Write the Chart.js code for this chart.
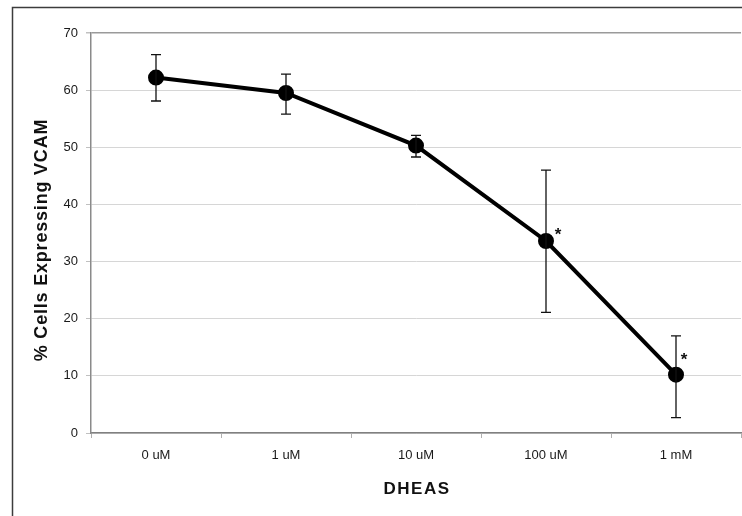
<!DOCTYPE html>
<html>
<head>
<meta charset="utf-8">
<script src="https://cdn.jsdelivr.net/npm/chart.js@4/dist/chart.umd.min.js"></script>
<style>
  html, body { margin: 0; padding: 0; background: #fff; overflow: hidden; }
  canvas { display: block; }
</style>
</head>
<body>
<canvas id="vcamChart" width="742" height="516"></canvas>
<script>
// DHEAS dose vs % cells expressing VCAM
const doses = ['0 uM', '1 uM', '10 uM', '100 uM', '1 mM'];
const meanPct = [62.2, 59.5, 50.3, 33.6, 10.2];
const errLow = [58.1, 55.8, 48.3, 21.1, 2.7];
const errHigh = [66.2, 62.8, 52.1, 46.0, 17.0];
const sigMarks = ['', '', '', '*', '*'];
const yTicks = [0, 10, 20, 30, 40, 50, 60, 70];
const xTitle = 'DHEAS';
const yTitle = '% Cells Expressing VCAM';

const FONT = '"Liberation Sans", Arial, sans-serif';

// outer frame like the exported figure
const framePlugin = {
    id: 'frame',
    beforeDraw(chart) {
        const ctx = chart.ctx;
        ctx.save();
        ctx.fillStyle = '#fff';
        ctx.fillRect(0, 0, chart.width, chart.height);
        ctx.strokeStyle = '#3c3c3c';
        ctx.lineWidth = 1.5;
        ctx.strokeRect(12.5, 7.5, chart.width + 20, chart.height + 20);
        ctx.restore();
    }
};

// axis titles drawn by hand so the letter spacing can match Excel's
const axisTitlePlugin = {
    id: 'axisTitles',
    afterDraw(chart) {
        const ctx = chart.ctx;
        const area = chart.chartArea;
        ctx.save();
        ctx.fillStyle = '#111';
        ctx.textAlign = 'center';
        ctx.textBaseline = 'middle';
        ctx.font = 'bold 17px ' + FONT;
        ctx.letterSpacing = '1.5px';
        ctx.fillText(xTitle, (area.left + area.right) / 2 + 1, 489);
        ctx.translate(42, 240);
        ctx.rotate(-Math.PI / 2);
        ctx.font = 'bold 18px ' + FONT;
        ctx.letterSpacing = '0.8px';
        ctx.fillText(yTitle, 0, 0);
        ctx.restore();
    }
};

// vertical error bars with caps, plus the significance stars
const errorBarPlugin = {
    id: 'errorBars',
    afterDatasetsDraw(chart) {
        const ctx = chart.ctx;
        const x = chart.scales.x;
        const y = chart.scales.y;
        const cap = 5;
        ctx.save();
        ctx.strokeStyle = '#111';
        ctx.lineWidth = 1.3;
        doses.forEach((d, i) => {
            const px = x.getPixelForValue(i);
            const lo = y.getPixelForValue(errLow[i]);
            const hi = y.getPixelForValue(errHigh[i]);
            ctx.beginPath();
            ctx.moveTo(px, lo); ctx.lineTo(px, hi);
            ctx.moveTo(px - cap, lo); ctx.lineTo(px + cap, lo);
            ctx.moveTo(px - cap, hi); ctx.lineTo(px + cap, hi);
            ctx.stroke();
        });
        // stars sit up-right of the point
        const starOffsets = { 3: [12, -9], 4: [8, -17] };
        ctx.fillStyle = '#111';
        ctx.font = 'bold 17px ' + FONT;
        ctx.textAlign = 'center';
        ctx.textBaseline = 'middle';
        sigMarks.forEach((m, i) => {
            if (!m) return;
            const off = starOffsets[i] || [10, -10];
            const px = x.getPixelForValue(i) + off[0];
            const py = y.getPixelForValue(meanPct[i]) + off[1];
            ctx.fillText(m, px, py + 3);
        });
        ctx.restore();
    }
};

const ctx = document.getElementById('vcamChart');
new Chart(ctx, {
    type: 'line',
    data: {
        labels: doses,
        datasets: [{
            data: meanPct,
            borderColor: '#000',
            borderWidth: 4,
            backgroundColor: '#000',
            pointBackgroundColor: '#000',
            pointBorderColor: '#000',
            pointRadius: 6,
            tension: 0,
            fill: false
        }]
    },
    options: {
        responsive: false,
        animation: false,
        layout: { autoPadding: false, padding: { left: 0, top: 33, right: 1, bottom: 0 } },
        plugins: {
            legend: { display: false },
            tooltip: { enabled: false }
        },
        scales: {
            x: {
                type: 'category',
                offset: true,
                grid: {
                    offset: true,
                    drawOnChartArea: false,
                    drawTicks: true,
                    tickLength: 5,
                    tickColor: '#b0b0b0'
                },
                border: { color: '#808080', width: 1.5 },
                ticks: {
                    color: '#1a1a1a',
                    padding: 10,
                    font: { family: FONT, size: 13 }
                },
                afterFit(scale) {
                    scale.height = 83;
                    scale.paddingLeft = 0;
                    scale.paddingRight = 0;
                }
            },
            y: {
                min: 0,
                max: 70,
                afterBuildTicks(scale) { scale.ticks = yTicks.map(v => ({ value: v })); },
                grid: {
                    color: ctx => ctx.tick && ctx.tick.value === 70 ? '#9a9a9a' : '#d6d6d6',
                    lineWidth: ctx => ctx.tick && ctx.tick.value === 70 ? 1.5 : 1,
                    drawTicks: true,
                    tickLength: 5,
                    tickColor: '#c0c0c0'
                },
                border: { color: '#8a8a8a', width: 1.5 },
                ticks: {
                    color: '#1a1a1a',
                    padding: 8,
                    font: { family: FONT, size: 13 }
                },
                afterFit(scale) { scale.width = 91; }
            }
        }
    },
    plugins: [framePlugin, errorBarPlugin, axisTitlePlugin]
});
</script>
</body>
</html>
